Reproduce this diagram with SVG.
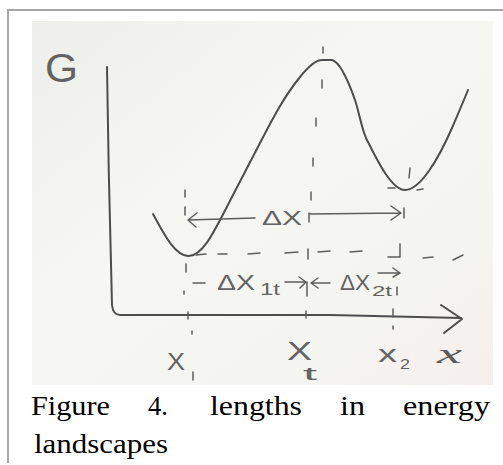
<svg xmlns="http://www.w3.org/2000/svg" width="503" height="465" viewBox="0 0 503 465">
<defs>
<linearGradient id="paper" x1="0" y1="0" x2="1" y2="1">
<stop offset="0" stop-color="#eeeeeb"/>
<stop offset="0.4" stop-color="#f6f6f3"/>
<stop offset="0.8" stop-color="#f4f4f0"/>
<stop offset="1" stop-color="#f5efec"/>
</linearGradient>
<style>
.ink{fill:none;stroke:#4d4d4d;stroke-width:2;stroke-linecap:round;stroke-linejoin:round}
.thin{fill:none;stroke:#5e5e5e;stroke-width:1.5;stroke-linecap:round;stroke-linejoin:round}
.hand{font-family:"Liberation Sans","DejaVu Sans",sans-serif;fill:#636363}
.cap{font-family:"Liberation Serif","DejaVu Serif",serif;font-size:28px;fill:#000}
</style>
</defs>
<rect x="0" y="0" width="503" height="465" fill="#ffffff"/>
<path d="M8,463 L8,10 L503,10" fill="none" stroke="#a8a8a8" stroke-width="2"/>
<rect x="32" y="21" width="461" height="364" fill="url(#paper)"/>

<g id="axes">
<path class="ink" d="M107,67 C108,140 110,240 112,305 Q113,315 120,315 L240,315 L330,315 L461,318"/>
<path class="ink" d="M441,305 L462,319 L444,333"/>
</g>

<g id="curve">
<path class="ink" d="M153,214 C163,232 174,255 188,256 C203,257 215,230 233,195 L260,143 C272,120 283,98 300,77 C308,67 316,60 322,60 L332,60 C340,62 348,80 355,100 C360,115 362,132 368,142 C378,162 392,190 405,190 C420,190 438,160 452,128 C458,114 464,100 468,90"/>
</g>

<g id="guides">
<path class="thin" d="M323,47 L323,53 M322,80 L322,88 M316,118 L316,126 M313,158 L313,166 M311,192 L311,200 M309,213 L309,222 M308,249 L308,259 M307,282 L307,296 M306,311 L306,318"/>
<path class="thin" d="M185,190 L185,197 M185,207 L185,215 M186,264 L186,272 M184,291 L184,294 M188,312 L188,319 M192,331 L192,334 M193,372 L193,380"/>
<path class="thin" d="M410,168 L409,178 M404,208 L404,218 M400,244 L400,257 L388,257 M397,287 L397,295 M393,309 L393,317 M393,326 L393,329 M388,188 L395,188 M417,190 L423,189"/>
<path class="thin" d="M196,255 L206,254 M218,254 L227,254 M248,254 L260,253 M285,253 L298,252 M318,252 L330,251 M350,252 L362,251 M423,258 L433,257 M453,260 L463,255"/>
</g>

<g id="dimensions">
<path class="thin" d="M188,220 L255,218 M197,213 L188,220 L196,227"/>
<path class="thin" d="M310,214 L400,213 M391,206 L401,213 L391,220"/>
<path class="thin" d="M193,283 L205,283"/>
<path class="thin" d="M285,282 L305,282 M299,277 L306,282 L300,288"/>
<path class="thin" d="M312,283 L330,283 M318,278 L311,283 L318,288"/>
<path class="thin" d="M378,273 L399,273 M393,268 L400,273 L393,277"/>
</g>

<g id="labels">
<text class="hand" x="45" y="82" font-size="41" textLength="33" lengthAdjust="spacingAndGlyphs">G</text>
<text class="hand" x="262" y="225" font-size="20" textLength="40" lengthAdjust="spacingAndGlyphs">ΔX</text>
<text class="hand" x="217" y="290" font-size="22" textLength="38" lengthAdjust="spacingAndGlyphs">ΔX</text>
<text class="hand" x="260" y="295" font-size="17" textLength="20" lengthAdjust="spacingAndGlyphs">1t</text>
<text class="hand" x="340" y="290" font-size="22" textLength="30" lengthAdjust="spacingAndGlyphs">ΔX</text>
<text class="hand" x="372" y="296" font-size="14" textLength="20" lengthAdjust="spacingAndGlyphs">2t</text>
<text class="hand" x="167" y="370" font-size="23" textLength="18" lengthAdjust="spacingAndGlyphs">X</text>
<text class="hand" x="287" y="360" font-size="26" textLength="25" lengthAdjust="spacingAndGlyphs">X</text>
<text class="hand" x="303" y="380" font-size="18" textLength="14" lengthAdjust="spacingAndGlyphs">t</text>
<text class="hand" x="378" y="362" font-size="23" textLength="19" lengthAdjust="spacingAndGlyphs">x</text>
<text class="hand" x="400" y="369" font-size="15" textLength="10" lengthAdjust="spacingAndGlyphs">2</text>
<text x="437" y="363" font-family="Liberation Serif, serif" font-style="italic" font-size="28" fill="#5a5a5a" textLength="25" lengthAdjust="spacingAndGlyphs">x</text>
</g>

<g id="caption">
<text class="cap" x="31" y="415" textLength="79" lengthAdjust="spacingAndGlyphs">Figure</text>
<text class="cap" x="148" y="415" textLength="20" lengthAdjust="spacingAndGlyphs">4.</text>
<text class="cap" x="210" y="415" textLength="92" lengthAdjust="spacingAndGlyphs">lengths</text>
<text class="cap" x="340" y="415" textLength="25" lengthAdjust="spacingAndGlyphs">in</text>
<text class="cap" x="403" y="415" textLength="87" lengthAdjust="spacingAndGlyphs">energy</text>
<text class="cap" x="34" y="453" textLength="134" lengthAdjust="spacingAndGlyphs">landscapes</text>
</g>
</svg>
